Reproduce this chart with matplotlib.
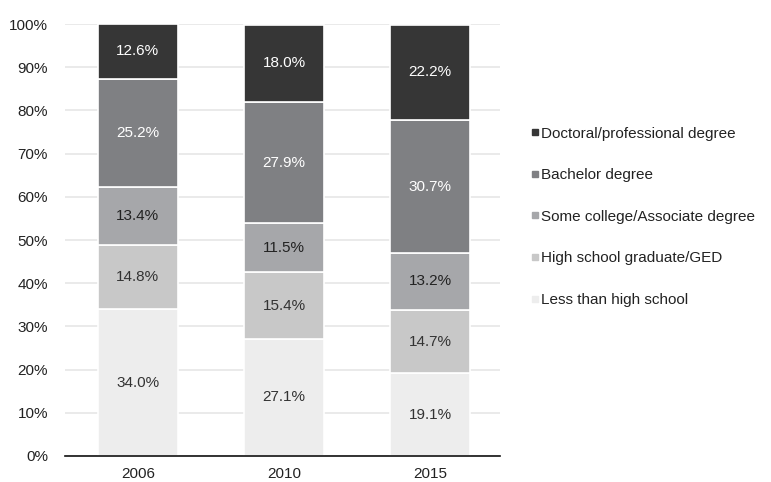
import matplotlib.pyplot as plt
from matplotlib.lines import Line2D
import numpy as np

plt.rcParams['font.family'] = ['Liberation Sans', 'DejaVu Sans']

years = ['2006', '2010', '2015']
categories = ['Less than high school', 'High school graduate/GED',
              'Some college/Associate degree', 'Bachelor degree',
              'Doctoral/professional degree']
less_hs = [34.0, 27.1, 19.1]
hs_grad = [14.8, 15.4, 14.7]
some_college = [13.4, 11.5, 13.2]
bachelor = [25.2, 27.9, 30.7]
doctoral = [12.6, 18.0, 22.2]

series = [less_hs, hs_grad, some_college, bachelor, doctoral]
colors = ['#ededed', '#c8c8c8', '#a6a7aa', '#7f8083', '#363636']
text_colors = ['#333333', '#333333', '#222222', 'white', 'white']

fig = plt.figure(figsize=(7.71, 4.82), dpi=100)
ax = fig.add_axes([0.084, 0.054, 0.565, 0.896])

x = np.arange(len(years))
bottom = np.zeros(len(years))
for vals, col, tcol in zip(series, colors, text_colors):
    vals = np.array(vals)
    ax.bar(x, vals, 0.55, bottom=bottom, color=col, edgecolor='white',
           linewidth=1.2, zorder=2)
    for xi, b, v in zip(x, bottom, vals):
        ax.text(xi, b + v / 2, f'{v:.1f}%', ha='center', va='center',
                fontsize=11, color=tcol, zorder=3)
    bottom += vals

ax.set_ylim(0, 100)
ax.set_xlim(-0.5, 2.48)
ax.set_yticks(range(0, 101, 10))
ax.set_yticklabels([f'{t}%' for t in range(0, 101, 10)], fontsize=11, color='#222222')
ax.set_xticks(x)
ax.set_xticklabels(years, fontsize=11, color='#222222')
ax.tick_params(axis='y', length=0, pad=12)
ax.tick_params(axis='x', length=0, pad=8)
ax.yaxis.grid(True, color='#e6e6e6', linewidth=1.2, zorder=0)
ax.set_axisbelow(True)
for s in ['top', 'right', 'left']:
    ax.spines[s].set_visible(False)
ax.spines['bottom'].set_color('#111111')
ax.spines['bottom'].set_linewidth(1.2)

handles = [Line2D([], [], marker='s', linestyle='', markersize=5,
                  markerfacecolor=c, markeredgecolor=c) for c in colors]
fig.legend(handles[::-1], categories[::-1], loc='upper left',
           bbox_to_anchor=(0.668, 0.766), frameon=False, fontsize=11,
           labelspacing=1.81, handletextpad=0.0, handlelength=0.8,
           labelcolor='#222222')

fig.savefig('out.png', dpi=100)
